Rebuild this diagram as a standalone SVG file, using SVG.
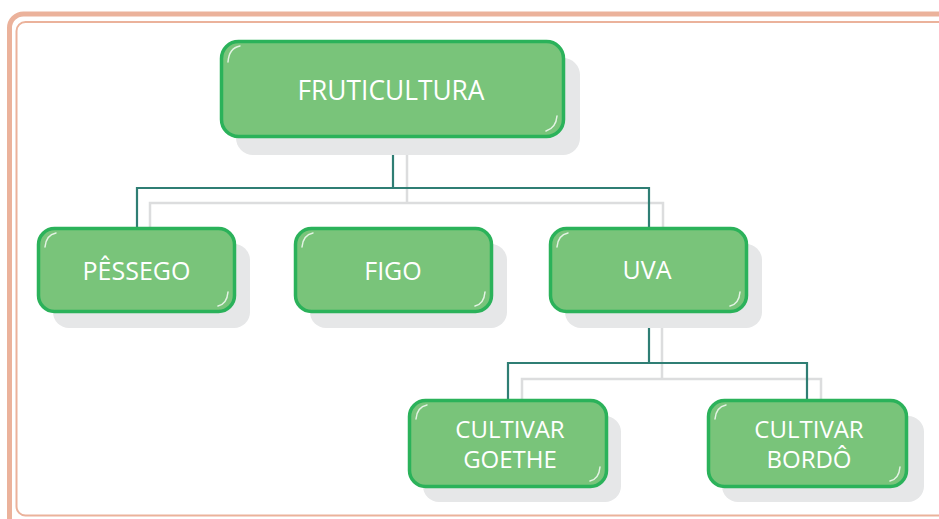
<svg xmlns="http://www.w3.org/2000/svg" width="939" height="519" viewBox="0 0 939 519">
<style>
.frame-o{fill:none;stroke:#EBB29B;stroke-width:5}
.frame-i{fill:none;stroke:#EBB29B;stroke-width:2}
.shadow{fill:#E6E7E8}
.box{fill:#79C47A;stroke:#2BB25A;stroke-width:3.5}
.gloss{fill:none;stroke:#FFFFFF;stroke-width:1.5;stroke-linecap:round;opacity:0.8}
.lbl{font-family:"Open Sans","Noto Sans",sans-serif;font-size:25px;font-weight:500;fill:#FFFFFF;text-anchor:middle}
.lbl2{font-size:24px}
.con{fill:none;stroke:#2F7E74;stroke-width:2.2}
.con-s{fill:none;stroke:#DCDDDE;stroke-width:2.5}
</style>
<rect width="939" height="519" fill="#FFFFFF"/>
<g id="frame">
<rect class="frame-o" x="9.5" y="14" width="960" height="540" rx="14"/>
<rect class="frame-i" x="16.5" y="22" width="950" height="493.5" rx="9"/>
</g>
<g id="connectors">
<path class="con-s" d="M407 150 V203 M150 228 V203 H663 V228"/>
<path class="con-s" d="M662 326 V379 M522 400 V379 H821 V400"/>
<path class="con" d="M393 137 V188 M137 228 V188 H649 V228"/>
<path class="con" d="M649 311 V363 M508 400 V363 H807 V400"/>
</g>
<g id="fruticultura">
<rect class="shadow" x="236" y="58" width="344" height="97" rx="17"/>
<rect class="box" x="221.5" y="41.5" width="342" height="95" rx="17"/>
<path class="gloss" d="M228 62 Q229 48 240 46"/>
<path class="gloss" d="M557 116 Q556 128 546 131"/>
<text class="lbl" x="391" y="100" style="font-size:27px" textLength="187" lengthAdjust="spacingAndGlyphs">FRUTICULTURA</text>
</g>
<g id="pessego">
<rect class="shadow" x="53" y="244" width="197" height="84" rx="16"/>
<rect class="box" x="38.5" y="228.5" width="196" height="83" rx="16"/>
<path class="gloss" d="M45 247 Q46 235 56 233"/>
<path class="gloss" d="M228 292 Q227 304 218 306"/>
<text class="lbl" x="136.5" y="280">PÊSSEGO</text>
</g>
<g id="figo">
<rect class="shadow" x="310" y="244" width="197" height="84" rx="16"/>
<rect class="box" x="295.5" y="228.5" width="196" height="83" rx="16"/>
<path class="gloss" d="M302 247 Q303 235 313 233"/>
<path class="gloss" d="M485 292 Q484 304 475 306"/>
<text class="lbl" x="393" y="280">FIGO</text>
</g>
<g id="uva">
<rect class="shadow" x="565" y="244" width="197" height="84" rx="16"/>
<rect class="box" x="550.5" y="228.5" width="196" height="83" rx="16"/>
<path class="gloss" d="M557 247 Q558 235 568 233"/>
<path class="gloss" d="M740 292 Q739 304 730 306"/>
<text class="lbl" x="647" y="279">UVA</text>
</g>
<g id="goethe">
<rect class="shadow" x="423" y="416" width="198" height="86" rx="16"/>
<rect class="box" x="409.5" y="400.5" width="197" height="86" rx="16"/>
<path class="gloss" d="M416 419 Q417 407 427 405"/>
<path class="gloss" d="M600 467 Q599 479 590 481"/>
<text class="lbl lbl2" x="510" y="438">CULTIVAR</text>
<text class="lbl lbl2" x="510" y="468">GOETHE</text>
</g>
<g id="bordo">
<rect class="shadow" x="722" y="416" width="202" height="86" rx="16"/>
<rect class="box" x="708.5" y="400.5" width="198" height="86" rx="16"/>
<path class="gloss" d="M715 419 Q716 407 726 405"/>
<path class="gloss" d="M900 467 Q899 479 890 481"/>
<text class="lbl lbl2" x="809" y="438">CULTIVAR</text>
<text class="lbl lbl2" x="809" y="468">BORDÔ</text>
</g>
</svg>
